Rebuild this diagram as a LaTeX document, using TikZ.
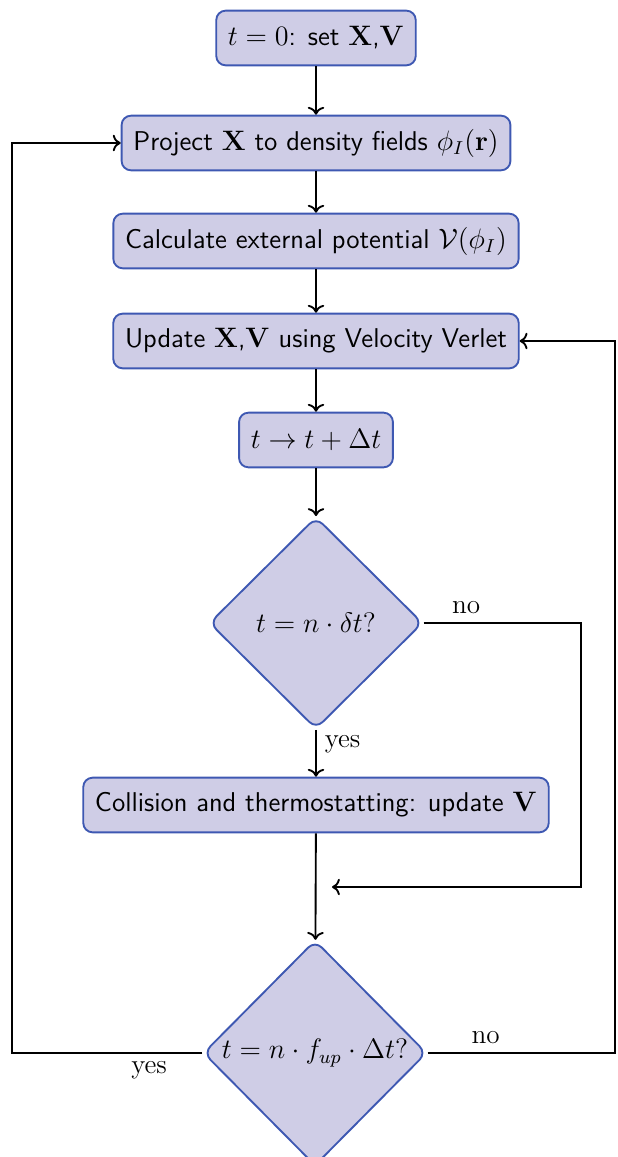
\documentclass[tikz,border=0pt]{standalone}
\usepackage{amsmath}
\usepackage{amssymb}
\usepackage{tikz}
\usetikzlibrary{arrows.meta,positioning,shapes.geometric}
\definecolor{flowfill}{RGB}{207,205,230}
\definecolor{flowblue}{RGB}{62,88,178}

\begin{document}
\begin{tikzpicture}[x=0.015cm, y=-0.015cm, font=\sffamily\fontsize{11.6}{13.9}\selectfont,
  stepbox/.style={draw=flowblue, fill=flowfill, thick, rounded corners=4pt, minimum height=0.82cm, inner xsep=5pt},
  testbox/.style={diamond, draw=flowblue, fill=flowfill, thick, rounded corners=4pt, inner sep=0pt, font=\rmfamily\fontsize{11.6}{13.9}\selectfont},
  flow/.style={->, thick},
  lbl/.style={font=\rmfamily\fontsize{11.6}{13.9}\selectfont}]
\useasboundingbox (0,0) rectangle (617,1157);
% steps of one cycle
\node[stepbox] (init) at (316,38) {$t=0$: set $\mathbf{X}$,$\mathbf{V}$};
\node[stepbox] (proj) at (316,143) {Project $\mathbf{X}$ to density fields $\phi_I(\mathbf{r})$};
\node[stepbox] (calc) at (316,241) {Calculate external potential $\mathcal{V}(\phi_I)$};
\node[stepbox] (verlet) at (316,341) {Update $\mathbf{X}$,$\mathbf{V}$ using Velocity Verlet};
\node[stepbox] (tstep) at (316,440) {$t \rightarrow t + \Delta t$};
% collision test
\node[testbox, minimum width=3.2cm, minimum height=3.18cm] (coll) at (316,623) {$t = n \cdot \delta t?$};
\node[stepbox] (thermo) at (316,805) {Collision and thermostatting: update $\mathbf{V}$};
\coordinate (join) at (332,887);
\coordinate (collrail) at (581,623);
% update test
\node[testbox, minimum width=3.35cm, minimum height=3.38cm] (upd) at (315,1053) {$t = n \cdot f_{up} \cdot \Delta t?$};
\coordinate (leftrail) at (12,1053);
\coordinate (rightrail) at (615,1053);
% straight flow
\draw[flow] (init) -- (proj);
\draw[flow] (proj) -- (calc);
\draw[flow] (calc) -- (verlet);
\draw[flow] (verlet) -- (tstep);
\draw[flow] (tstep) -- (coll);
\draw[flow] (coll) -- node[lbl, right, pos=0.3] {yes} (thermo);
\draw[flow] (thermo) -- (upd);
% loops
\draw[flow] (coll.east) -- node[lbl, above, pos=0.27] {no} (collrail) |- (join);
\draw[flow] (upd.west) -- node[lbl, below, pos=0.28] {yes} (leftrail) |- (proj.west);
\draw[flow] (upd.east) -- node[lbl, above, pos=0.31] {no} (rightrail) |- (verlet.east);
\end{tikzpicture}
\end{document}
